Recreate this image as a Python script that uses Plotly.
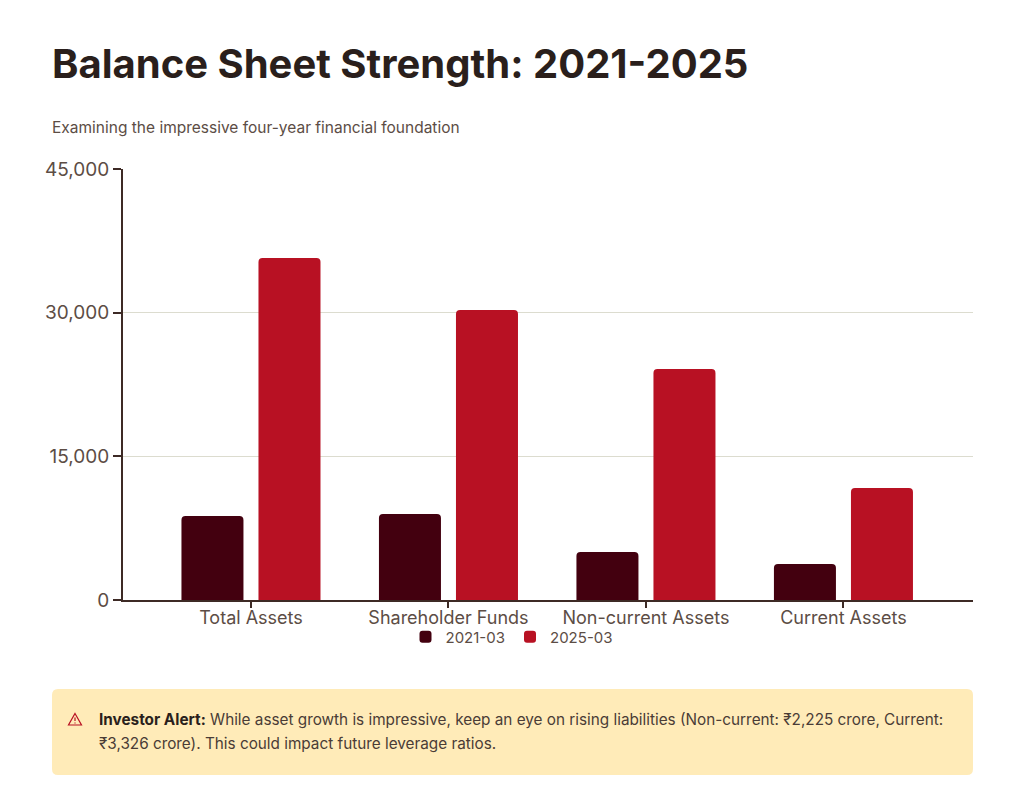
import plotly.graph_objects as go

categories = ["Total Assets", "Shareholder Funds", "Non-current Assets", "Current Assets"]
values_2021 = [8770, 8980, 5010, 3760]
values_2025 = [35700, 30280, 24120, 11690]
series_names = ["2021-03", "2025-03"]
tick_values = [0, 15000, 30000, 45000]
tick_labels = ["0", "15,000", "30,000", "45,000"]
title_text = "Balance Sheet Strength: 2021-2025"
subtitle_text = "Examining the impressive four-year financial foundation"
alert_line1 = ("<b style='color:#2a1f1c'>Investor Alert:</b> While asset growth is impressive, keep an eye on rising "
               "liabilities (Non-current: ₹2,225 crore, Current:")
alert_line2 = "₹3,326 crore). This could impact future leverage ratios."

W, H = 1024, 790
L, R, T, B = 123, 973, 169, 600
FONT = "Inter, 'Noto Sans', sans-serif"
TEXT = "#5c4d45"
RED = "#B81123"

def ax(x):
    return (x - L) / (R - L)

def ay(y):
    return (B - y) / (B - T)

def pts(*coords):
    return " ".join(f"{c} {ax(x)} {ay(y)}" for c, x, y in coords)

fig = go.Figure()
fig.add_bar(name=series_names[0], x=categories, y=values_2021, marker=dict(color="#43000F", line=dict(width=0)))
fig.add_bar(name=series_names[1], x=categories, y=values_2025, marker=dict(color=RED, line=dict(width=0)))

x0, x1, y0, y1 = 52, 973, 689, 775
r = 6
box_path = (f"M {ax(x0+r)} {ay(y0)} L {ax(x1-r)} {ay(y0)} Q {ax(x1)} {ay(y0)} {ax(x1)} {ay(y0+r)} "
            f"L {ax(x1)} {ay(y1-r)} Q {ax(x1)} {ay(y1)} {ax(x1-r)} {ay(y1)} "
            f"L {ax(x0+r)} {ay(y1)} Q {ax(x0)} {ay(y1)} {ax(x0)} {ay(y1-r)} "
            f"L {ax(x0)} {ay(y0+r)} Q {ax(x0)} {ay(y0)} {ax(x0+r)} {ay(y0)} Z")
icon_triangle = pts(("M", 75, 713.5), ("L", 81.5, 725), ("L", 68.5, 725)) + " Z"
icon_bar = pts(("M", 75, 717.5), ("L", 75, 721))
icon_dot = pts(("M", 75, 722.6), ("L", 75, 723.4))

icon_style = dict(type="path", xref="paper", yref="paper", fillcolor="rgba(0,0,0,0)",
                  line=dict(color=RED, width=1.2))

fig.update_layout(
    width=W, height=H,
    margin=dict(l=L, r=W - R, t=T, b=H - B, pad=0),
    paper_bgcolor="white", plot_bgcolor="white",
    font=dict(family=FONT, color=TEXT),
    barmode="group", bargap=0.22, bargroupgap=0.195, barcornerradius=4,
    xaxis=dict(
        range=[-0.648, 3.656], showgrid=False, showline=True, linecolor="#3d2a25", linewidth=2,
        ticks="outside", ticklen=6, tickwidth=2, tickcolor="#3d2a25",
        tickfont=dict(size=18, color=TEXT), automargin=False, zeroline=False, ticklabelstandoff=-6,
    ),
    yaxis=dict(
        range=[0, 45000], tickvals=tick_values, ticktext=tick_labels,
        showgrid=True, gridcolor="#dcdccf", gridwidth=1.4,
        showline=True, linecolor="#3d2a25", linewidth=2,
        ticks="outside", ticklen=8, tickwidth=2, tickcolor="#3d2a25",
        tickfont=dict(size=19, color=TEXT), automargin=False, zeroline=False,
    ),
    legend=dict(
        orientation="h", x=ax(512), xanchor="center", y=ay(637), yanchor="middle",
        font=dict(size=15, color=TEXT), itemwidth=30, traceorder="normal",
        bgcolor="rgba(0,0,0,0)",
    ),
    shapes=[
        dict(type="path", xref="paper", yref="paper", path=box_path,
             fillcolor="#FFEBB8", line=dict(width=0), layer="below"),
        dict(icon_style, path=icon_triangle),
        dict(icon_style, path=icon_bar),
        dict(icon_style, path=icon_dot),
    ],
)

def note(x, y, text, size, color):
    fig.add_annotation(xref="paper", yref="paper", x=ax(x), y=ay(y), text=text, showarrow=False,
                       xanchor="left", yanchor="middle", align="left", borderpad=0, xshift=-1,
                       font=dict(size=size, color=color, family=FONT))

note(52, 64, f"<b>{title_text}</b>", 40, "#2a1f1c")
note(52, 128, subtitle_text, 15.5, TEXT)
note(99, 719, alert_line1, 15.3, "#4a3c36")
note(99, 743, alert_line2, 15.3, "#4a3c36")

fig.write_html("out.html", config={"displayModeBar": False},
               post_script="document.body.style.margin='0';")
